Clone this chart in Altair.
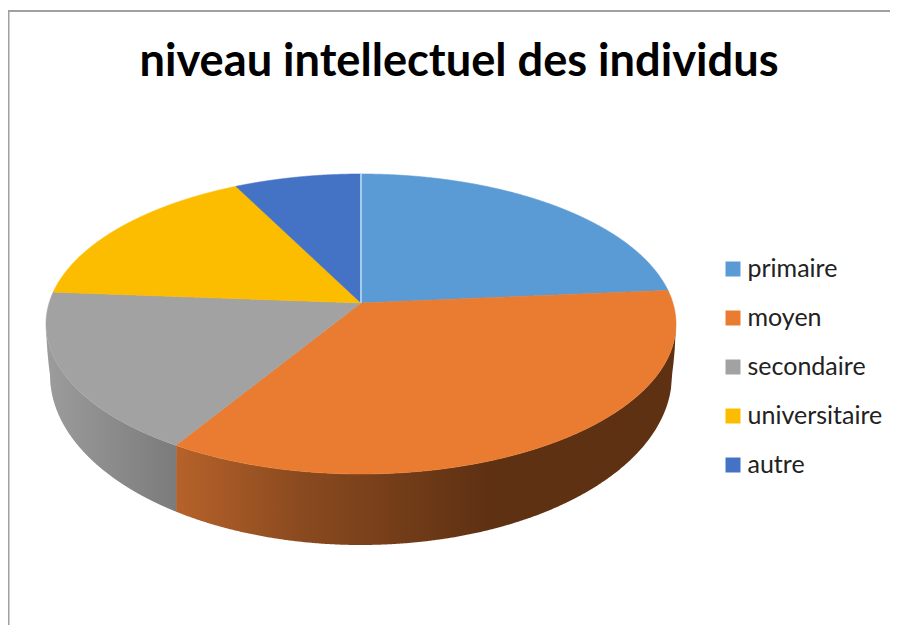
import numpy as np
import pandas as pd
import altair as alt

# values
categories = ["primaire", "moyen", "secondaire", "universitaire", "autre"]
shares = [21.4, 38.6, 18.4, 15.1, 6.5]
colors = ["#5B9BD5", "#E97C30", "#A2A2A2", "#FCBD00", "#4472C4"]
title_text = "niveau intellectuel des individus"

# disc geometry (perspective view), expressed in scale units
W, H = 882, 617
CX, CY, RX, RY = 361.0, 324.0, 315.0, 150.0
AX, AY = 361.0, 303.0
LOW_CY, LOW_RX, LOW_RY = 375.0, 311.0, 170.0


def rim(t):
    return CX + RX * np.sin(t), CY - RY * np.cos(t)


def sector(t0, t1):
    ts = np.linspace(t0, t1, 200)
    px, py = rim(ts)
    px = np.r_[AX, px]
    py = np.r_[AY, py]
    xs = np.unique(np.round(np.r_[px, np.linspace(px.min(), px.max(), 300)], 3))
    rows = []
    n = len(px)
    for x in xs:
        hits = []
        for i in range(n):
            x0, y0, x1, y1 = px[i], py[i], px[(i + 1) % n], py[(i + 1) % n]
            lo, hi = min(x0, x1), max(x0, x1)
            if lo - 1e-3 <= x <= hi + 1e-3:
                if abs(x1 - x0) < 1e-6:
                    hits += [y0, y1]
                else:
                    hits.append(y0 + (y1 - y0) * (x - x0) / (x1 - x0))
        if hits:
            rows.append((x, min(hits), max(hits)))
    return rows


cum = np.cumsum([0] + shares) / 100 * 2 * np.pi
top_rows = []
for name, a, b in zip(categories, cum[:-1], cum[1:]):
    for x, y, y2 in sector(a, b):
        top_rows.append({"niveau": name, "x": x, "y": y, "y2": y2})
top = pd.DataFrame(top_rows)


def side(x0, x1):
    out = []
    for x in np.linspace(x0, x1, 400):
        s = np.clip((x - CX) / RX, -1, 1)
        up = CY + RY * np.sqrt(1 - s * s)
        r = (x - CX) / LOW_RX
        if abs(r) <= 1:
            low = LOW_CY + LOW_RY * np.sqrt(1 - r * r)
        else:
            low = up + (LOW_CY - up) * (RX - abs(x - CX)) / (RX - LOW_RX)
        out.append({"x": x, "y": up, "y2": low})
    return pd.DataFrame(out)


xscale = alt.Scale(domain=[8, 8 + W], range=[0, W], nice=False, zero=False)
yscale = alt.Scale(domain=[8 + H, 8], range=[H, 0], nice=False, zero=False)
X = alt.X("x:Q", scale=xscale, axis=None)
Y = alt.Y("y:Q", scale=yscale, axis=None)
Y2 = alt.Y2("y2:Q")

split_x = rim(cum[2])[0] + 0.5
grey_grad = alt.Gradient(
    gradient="linear", x1=0, x2=1, y1=0, y2=0,
    stops=[alt.GradientStop(color="#9C9C9C", offset=0),
           alt.GradientStop(color="#7B7B7B", offset=1)],
)
orange_grad = alt.Gradient(
    gradient="linear", x1=0, x2=1, y1=0, y2=0,
    stops=[alt.GradientStop(color="#B6622A", offset=0),
           alt.GradientStop(color="#8A4A1F", offset=0.25),
           alt.GradientStop(color="#5F3113", offset=0.62),
           alt.GradientStop(color="#5F3113", offset=1)],
)
side_grey = alt.Chart(side(CX - RX, split_x + 0.5)).mark_area(color=grey_grad).encode(x=X, y=Y, y2=Y2)
side_orange = alt.Chart(side(split_x, CX + RX)).mark_area(color=orange_grad).encode(x=X, y=Y, y2=Y2)

tops = alt.Chart(top).mark_area(strokeWidth=0.6).encode(
    x=X, y=Y, y2=Y2,
    color=alt.Color(
        "niveau:N",
        scale=alt.Scale(domain=categories, range=colors),
        legend=alt.Legend(
            title=None, orient="none", legendX=712.5, legendY=248.5,
            symbolType="square", symbolSize=225, symbolStrokeWidth=0,
            labelFont="Lato", labelFontSize=25, labelColor="#222222",
            labelOffset=2, rowPadding=23, labelLimit=300,
        ),
    ),
    stroke=alt.Stroke(
        "niveau:N",
        scale=alt.Scale(domain=categories, range=colors),
        legend=None,
    ),
)

seam = alt.Chart(pd.DataFrame({"x": [CX], "y": [CY - RY], "y2": [AY]})).mark_rule(
    color="#A9CBEB", strokeWidth=2
).encode(x=X, y=Y, y2=Y2)

frame_top = alt.Chart(pd.DataFrame({"a": [0]})).mark_rule(color="#A0A0A0", strokeWidth=2).encode(
    x=alt.value(0), x2=alt.value(W), y=alt.value(3)
)
frame_left = alt.Chart(pd.DataFrame({"a": [0]})).mark_rule(color="#A0A0A0", strokeWidth=2).encode(
    x=alt.value(0.5), y=alt.value(3), y2=alt.value(H)
)

chart = (
    alt.layer(side_grey, side_orange, tops, seam, frame_top, frame_left)
    .resolve_scale(color="shared")
    .properties(
        width=W, height=H,
        padding=0,
        autosize=alt.AutoSizeParams(type="none"),
        background="white",
        title=alt.TitleParams(
            title_text, anchor="middle", font="Lato", fontWeight="bold",
            fontSize=45.2, color="black", dx=10, dy=77, offset=0,
        ),
    )
    .configure_view(stroke=None)
)
chart.save("out.html", embed_options={"renderer": "svg", "actions": False})
